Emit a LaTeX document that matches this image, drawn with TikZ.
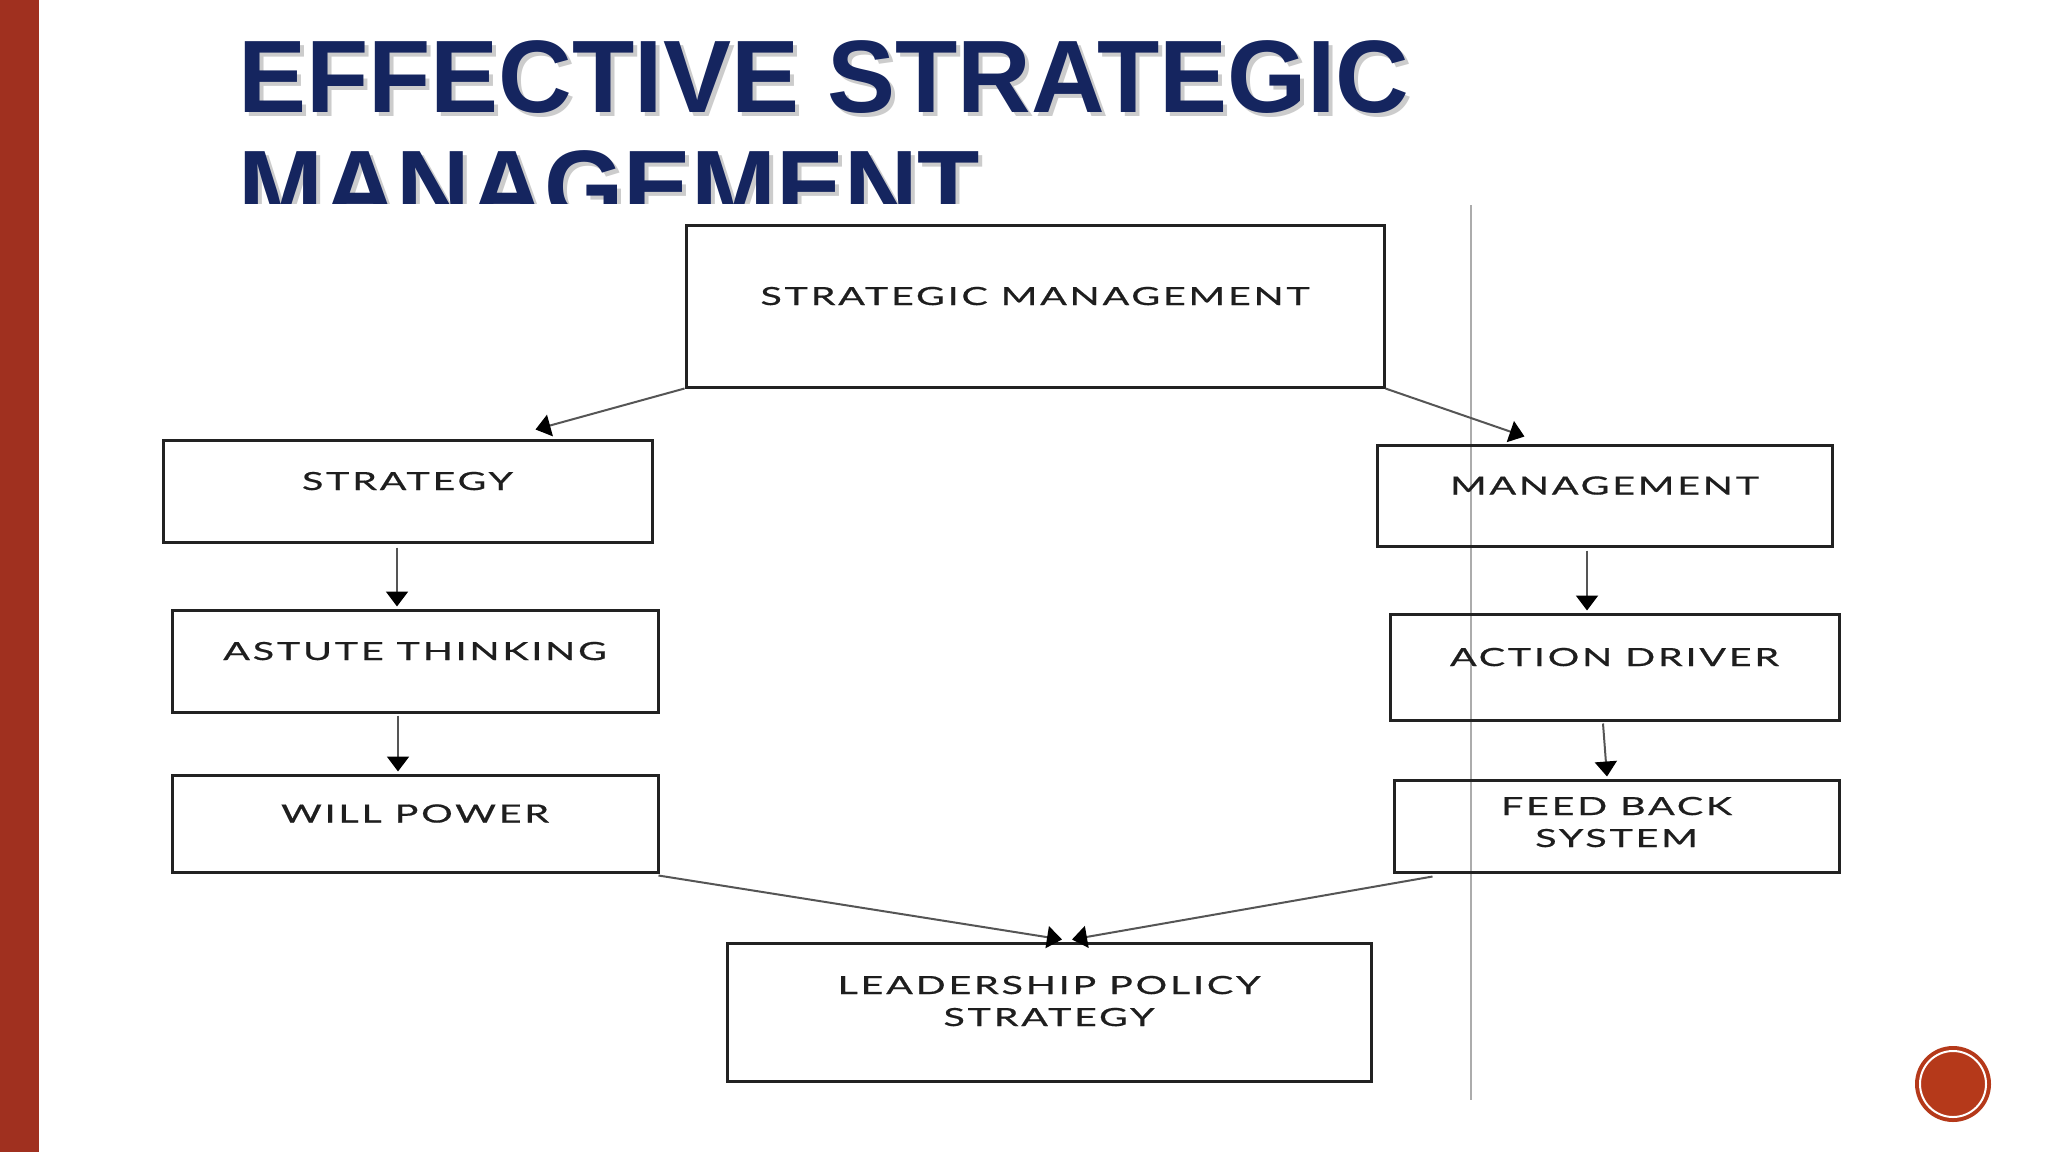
\documentclass[tikz,border=0pt]{standalone}
\usepackage{fontspec}
\setmainfont{Liberation Sans}
\newfontfamily\titlefont[FakeStretch=0.99]{Liberation Sans}
\newfontfamily\boxfont[FakeStretch=1.58,LetterSpace=11,FakeBold=0.6]{Lato}
\usetikzlibrary{arrows.meta,calc}
\definecolor{barred}{HTML}{A0301F}
\definecolor{navy}{HTML}{15255F}
\definecolor{circred}{HTML}{B5391A}
\definecolor{boxline}{HTML}{222222}
\definecolor{conn}{HTML}{555555}
\definecolor{boxtext}{HTML}{1E1E1E}
\begin{document}
\begin{tikzpicture}[x=1pt,y=-1pt,
  box/.style={draw=boxline, line width=3pt, inner sep=0pt, text=boxtext,
    font=\boxfont\fontsize{25}{32}\selectfont, text height=18pt, text depth=20pt},
  twoline/.style={align=center, text depth=0pt},
  conn/.style={draw=conn, line width=2pt, -{Triangle[width=22pt,length=15pt,color=black]}},
  titletext/.style={anchor=base west, inner sep=0pt, font=\titlefont\bfseries\fontsize{103}{110}\selectfont},
]
\useasboundingbox (0,0) rectangle (2048,1152);
\fill[white] (0,0) rectangle (2048,1152);
\fill[barred] (0,0) rectangle (39,1152);

% title (second line cut off at the top of the diagram)
\begin{scope}
\clip (39,0) rectangle (2048,203);
\node[titletext, text=gray!40] (t1s) at (242,116) {EFFECTIVE STRATEGIC};
\node[titletext, text=gray!40] (t2s) at (242,226) {MANAGEMENT};
\node[titletext, text=navy] (t1) at (238,112) {EFFECTIVE STRATEGIC};
\node[titletext, text=navy] (t2) at (238,222) {MANAGEMENT};
\end{scope}

% vertical rule
\draw[gray!65, line width=1.5pt] (1471,205) coordinate (vtop) -- (1471,1100) coordinate (vbot);

% boxes
\node[box, minimum width=698pt, minimum height=162pt] (sm) at (1035,306) {STRATEGIC MANAGEMENT};
\node[box, minimum width=489pt, minimum height=102pt] (strategy) at (407.5,491) {STRATEGY};
\node[box, minimum width=486pt, minimum height=102pt] (astute) at (415,661) {ASTUTE THINKING};
\node[box, minimum width=486pt, minimum height=97pt] (will) at (415,823.5) {WILL POWER};
\node[box, minimum width=455pt, minimum height=101pt] (mgmt) at (1604.5,495.5) {MANAGEMENT};
\node[box, minimum width=449pt, minimum height=106pt] (action) at (1614.5,667) {ACTION DRIVER};
\node[box, twoline, text height=42pt, minimum width=445pt, minimum height=92pt] (feed) at (1616.5,826) {FEED BACK\\SYSTEM};
\node[box, twoline, text height=28pt, minimum width=644pt, minimum height=138pt] (lead) at (1049,1012) {LEADERSHIP POLICY\\STRATEGY};

% connectors
\draw[conn] (sm.south west) -- ($(strategy.north)+(128,-9)$);
\draw[conn] (sm.south east) -- ($(mgmt.north)+(-80,-7)$);
\draw[conn] ($(strategy.south)+(-10.5,4)$) -- ($(astute.north)+(-18,-2)$);
\draw[conn] ($(astute.south)+(-17,2)$) -- ($(will.north)+(-17,-2)$);
\draw[conn] ($(mgmt.south)+(-17.5,3)$) -- ($(action.north)+(-27.5,-2)$);
\draw[conn] ($(action.south)+(-11.5,2)$) -- ($(feed.north)+(-9.5,-2)$);
\draw[conn] ($(will.south east)+(-1,2)$) -- ($(lead.north)+(13,-2)$);
\draw[conn] ($(feed.south west)+(40,3)$) -- ($(lead.north)+(23,-2)$);

% slide button
\node[circle, fill=circred, minimum size=76pt, inner sep=0pt] (btn) at (1953,1084) {};
\draw[white, line width=2pt] (btn.center) circle (33pt);
\end{tikzpicture}
\end{document}
